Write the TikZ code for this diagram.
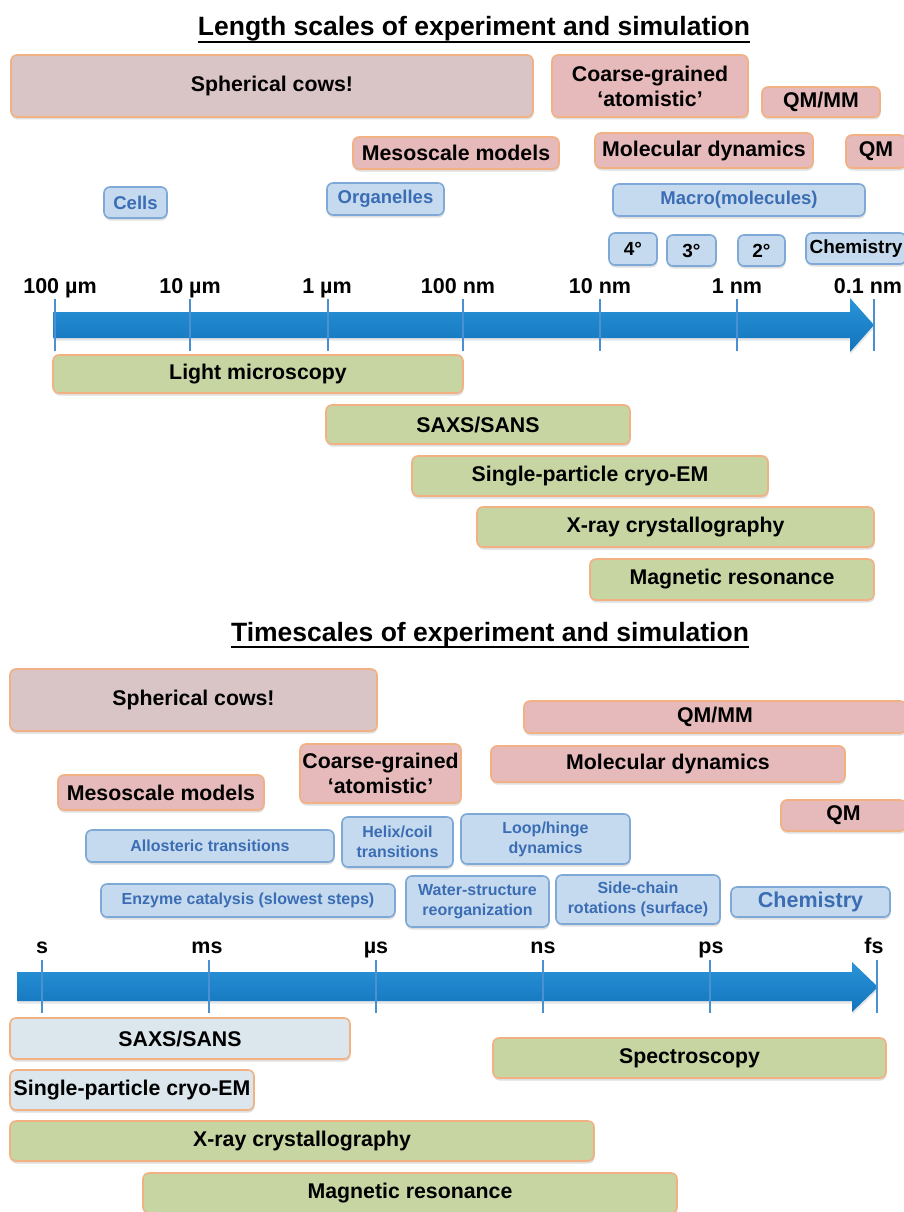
\documentclass[tikz,border=0pt]{standalone}
\usepackage{fontspec}
\setmainfont{Liberation Sans}
\usetikzlibrary{shadows}
\definecolor{simpink}{HTML}{E6B9BA}
\definecolor{cowfill}{HTML}{D9C4C6}
\definecolor{boxedge}{HTML}{F2B182}
\definecolor{bluefill}{HTML}{C5DAEE}
\definecolor{blueedge}{HTML}{7EA9D6}
\definecolor{bluetext}{HTML}{3B6DB4}
\definecolor{expgreen}{HTML}{C7D5A3}
\definecolor{expblue}{HTML}{DCE6ED}
\definecolor{arrowtop}{HTML}{2A94D8}
\definecolor{arrowbot}{HTML}{1273BC}
\definecolor{tickblue}{HTML}{4B91D2}
\tikzset{
  basebox/.style={rounded corners=6pt, line width=1.6pt, inner sep=0pt, align=center,
    font=\fontsize{21.3}{25}\selectfont\bfseries,
    drop shadow={shadow xshift=0.5pt, shadow yshift=-2.5pt, opacity=0.25, fill=black!50}},
  simbox/.style={basebox, fill=simpink, draw=boxedge},
  cowbox/.style={basebox, fill=cowfill, draw=boxedge},
  bluebox/.style={basebox, fill=bluefill, draw=blueedge, text=bluetext, font=\fontsize{18.5}{22}\selectfont\bfseries},
  bluesmall/.style={basebox, fill=bluefill, draw=blueedge, text=bluetext, font=\fontsize{16}{20}\selectfont\bfseries},
  bluebig/.style={basebox, fill=bluefill, draw=blueedge, text=bluetext, font=\fontsize{21.5}{25}\selectfont\bfseries},
  blackblue/.style={basebox, fill=bluefill, draw=blueedge, font=\fontsize{19}{22}\selectfont\bfseries},
  expbox/.style={basebox, fill=expgreen, draw=boxedge},
  expbox2/.style={basebox, fill=expblue, draw=boxedge},
  ticklabel/.style={anchor=base, font=\fontsize{21.5}{25}\selectfont\bfseries, inner sep=0pt},
  tickline/.style={draw=tickblue, line width=1.8pt},
  titletext/.style={anchor=base, font=\fontsize{26.5}{30}\selectfont\bfseries, inner sep=0pt},
  axisarrow/.style={top color=arrowtop, bottom color=arrowbot,
    drop shadow={shadow xshift=0.5pt, shadow yshift=-2.5pt, opacity=0.2, fill=black!50}}
}
\newcommand{\bx}[7]{\node[#1, minimum width={#4-#3}, minimum height={#6-#5}] (#2) at ({(#3+#4)/2},{(#5+#6)/2}) {#7};}
\begin{document}
\begin{tikzpicture}[x=1pt,y=-1pt]
\useasboundingbox (0,0) rectangle (904,1212);
\fill[white] (0,0) rectangle (904,1212);

% ---------- Length scales ----------
\node[titletext] (t1) at (474,36) {Length scales of experiment and simulation};
\draw[line width=2pt] ([yshift=-6pt]t1.base west) -- ([yshift=-6pt]t1.base east);

\bx{cowbox}{cows1}{11}{533}{55}{117}{Spherical cows!}
\bx{simbox}{cg1}{552}{748}{55}{117}{Coarse-grained\\‘atomistic’}
\bx{simbox}{qmmm1}{762}{880}{87}{117}{QM/MM}
\bx{simbox}{meso1}{353}{559}{137}{169}{Mesoscale models}
\bx{simbox}{md1}{595}{813}{133}{168}{Molecular dynamics}
\bx{simbox}{qm1}{846}{906}{135}{168}{QM}

\bx{bluebox}{cells}{104}{167}{187}{218}{Cells}
\bx{bluebox}{organelles}{327}{444}{183}{215}{Organelles}
\bx{bluebox}{macro}{613}{865}{184}{216}{Macro(molecules)}
\bx{blackblue}{q4}{609}{657}{233}{265}{4°}
\bx{blackblue}{q3}{667}{716}{235}{266}{3°}
\bx{blackblue}{q2}{738}{785}{235}{266}{2°}
\bx{blackblue}{chem1}{806}{906}{233}{264}{Chemistry}

\node[ticklabel] (l1) at (60,293) {100 µm};
\node[ticklabel] (l2) at (190,293) {10 µm};
\node[ticklabel] (l3) at (327,293) {1 µm};
\node[ticklabel] (l4) at (458,293) {100 nm};
\node[ticklabel] (l5) at (600,293) {10 nm};
\node[ticklabel] (l6) at (737,293) {1 nm};
\node[ticklabel] (l7) at (868,293) {0.1 nm};

\shade[axisarrow] (53,312) -- (850,312) -- (850,298) -- (874,325) -- (850,352) -- (850,338) -- (53,338) -- cycle;
\foreach \x in {55,190,328,463,600,737,874} \draw[tickline] (\x,299) -- (\x,351);

\bx{expbox}{lm}{53}{463}{355}{393}{Light microscopy}
\bx{expbox}{saxs1}{326}{630}{405}{444}{SAXS/SANS}
\bx{expbox}{cryo1}{412}{768}{456}{496}{Single-particle cryo-EM}
\bx{expbox}{xray1}{477}{874}{507}{547}{X-ray crystallography}
\bx{expbox}{mr1}{590}{874}{559}{600}{Magnetic resonance}

% ---------- Timescales ----------
\node[titletext] (t2) at (490,641) {Timescales of experiment and simulation};
\draw[line width=2pt] ([yshift=-6pt]t2.base west) -- ([yshift=-6pt]t2.base east);

\bx{cowbox}{cows2}{10}{377}{669}{731}{Spherical cows!}
\bx{simbox}{qmmm2}{524}{906}{701}{733}{QM/MM}
\bx{simbox}{cg2}{300}{461}{744}{803}{Coarse-grained\\‘atomistic’}
\bx{simbox}{md2}{491}{845}{746}{782}{Molecular dynamics}
\bx{simbox}{meso2}{58}{264}{775}{810}{Mesoscale models}
\bx{simbox}{qm2}{781}{906}{800}{831}{QM}

\bx{bluesmall}{allo}{86}{334}{830}{862}{Allosteric transitions}
\bx{bluesmall}{helix}{342}{453}{817}{867}{Helix/coil\\transitions}
\bx{bluesmall}{loop}{461}{630}{814}{864}{Loop/hinge\\dynamics}
\bx{bluesmall}{enzyme}{101}{395}{884}{917}{Enzyme catalysis (slowest steps)}
\bx{bluesmall}{water}{406}{549}{876}{927}{Water-structure\\reorganization}
\bx{bluesmall}{side}{556}{720}{875}{924}{Side-chain\\rotations (surface)}
\bx{bluebig}{chem2}{731}{890}{887}{917}{Chemistry}

\node[ticklabel] (s1) at (42,953) {s};
\node[ticklabel] (s2) at (207,953) {ms};
\node[ticklabel] (s3) at (376,953) {µs};
\node[ticklabel] (s4) at (543,953) {ns};
\node[ticklabel] (s5) at (711,953) {ps};
\node[ticklabel] (s6) at (874,953) {fs};

\shade[axisarrow] (17,972) -- (852,972) -- (852,962) -- (878,987) -- (852,1012) -- (852,1001) -- (17,1001) -- cycle;
\foreach \x in {42,209,376,543,710,877} \draw[tickline] (\x,960) -- (\x,1013);

\bx{expbox2}{saxs2}{10}{350}{1018}{1059}{SAXS/SANS}
\bx{expbox}{spec}{493}{886}{1038}{1078}{Spectroscopy}
\bx{expbox2}{cryo2}{10}{254}{1070}{1110}{Single-particle cryo-EM}
\bx{expbox}{xray2}{10}{594}{1121}{1161}{X-ray crystallography}
\bx{expbox}{mr2}{143}{677}{1173}{1213}{Magnetic resonance}
\end{tikzpicture}
\end{document}
